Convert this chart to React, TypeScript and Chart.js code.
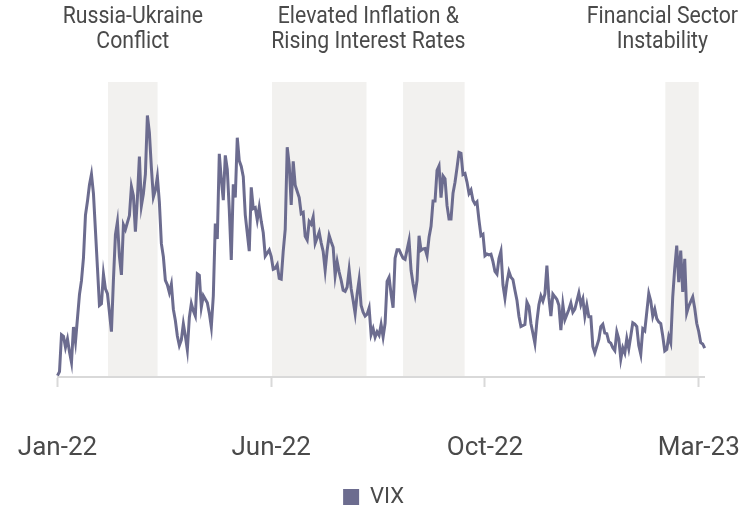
import React, { useEffect, useRef } from "react";
import { Chart, registerables } from "chart.js";

Chart.register(...registerables);

const FONT = "Roboto, 'Liberation Sans', sans-serif";
const LINE = "#6c6c8f";
const SHADE = "#f2f1ef";
const AXIS = "#d9d9d9";
const TEXT = "#4a4a4a";

// VIX daily closes, one entry per weekday (null = market holiday), one array per month
const jan22 = [16.6, 16.91, 19.73, 19.61, 18.76, 19.4, 18.41, 17.62, 20.31, 19.19, null, 22.79, 23.85, 25.59, 28.85, 29.9, 31.16, 31.96, 30.49, 27.66, 24.83];
const feb22 = [21.96, 22.09, 24.35, 23.22, 22.86, 21.44, 19.96, 23.91, 27.36, 28.33, 25.7, 24.29, 28.11, 27.75, null, 28.81, 31.02, 30.32, 27.59, 30.15];
const mar22 = [33.32, 29.57, 30.48, 31.98, 36.45, 35.13, 32.45, 30.23, 30.75, 31.77, 29.83, 26.67, 25.67, 23.87, 23.53, 22.94, 23.57, 21.67, 20.81, 19.63, 18.9, 19.33, 20.56];
const apr22 = [19.63, 18.57, 21.03, 22.1, 21.55, 21.16, 24.37, 24.26, 21.82, 22.7, null, 22.17, 21.37, 20.32, 22.68, 28.21, 27.02, 33.52, 31.6, 29.99, 33.4];
const may22 = [32.34, 29.25, 25.42, 31.2, 30.19, 34.75, 32.99, 32.56, 31.77, 28.87, 27.47, 26.1, 30.96, 29.35, 29.43, 28.48, 29.45, 28.37, 27.5, 25.72, null, 26.19];
const jun22 = [25.69, 24.72, 24.79, 25.07, 24.02, 23.96, 26.09, 27.75, 34.02, 32.69, 29.62, 32.95, 31.13, null, 30.19, 28.95, 29.05, 27.23, 26.95, 28.36, 28.16, 28.71];
const jul22 = [26.7, null, 27.54, 26.73, 26.08, 24.64, 26.17, 27.29, 26.82, 26.4, 24.23, 25.3, 24.5, 23.88, 23.11, 23.03, 23.36, 24.69, 23.24, 22.33, 21.33];
const aug22 = [22.84, 23.93, 21.95, 21.44, 21.15, 21.29, 21.77, 19.74, 20.2, 19.53, 19.95, 19.69, 20.5, 19.56, 20.6, 23.8, 24.11, 22.82, 21.78, 25.56, 26.21, 26.21, 25.87];
const sep22 = [25.56, 25.47, null, 26.91, 24.64, 23.61, 22.79, 23.87, 27.27, 26.16, 26.27, 26.3, 25.76, 27.16, 27.99, 29.92, 29.92, 32.26, 32.6, 30.18, 31.84, 31.62];
const oct22 = [29.59, 28.55, 28.55, 30.52, 31.36, 32.45, 33.63, 33.57, 31.94, 32.02, 31.37, 30.5, 30.76, 29.98, 29.69, 29.85, 28.46, 27.28, 27.39, 25.75, 25.88];
const nov22 = [25.81, 25.86, 25.3, 24.55, 24.35, 25.54, 26.09, 23.53, 22.52, 23.73, 24.54, 24.11, 23.93, 23.12, 22.36, 21.13, 20.35, null, 20.5, 22.21, 21.89, 20.58];
const dec22 = [19.84, 19.06, 20.75, 22.01, 22.68, 22.29, 22.83, 25.0, 22.55, 21.14, 22.83, 22.62, 22.42, 21.97, 20.07, 22.01, 20.87, null, 21.65, 22.14, 21.44, 21.67];
const jan23 = [null, 22.9, 22.01, 22.46, 21.13, 21.97, 21.09, 21.09, 18.83, 18.35, null, 19.36, 20.34, 20.52, 19.85, 19.81, 19.2, 19.08, 18.73, 18.51, 19.94, 19.4];
const feb23 = [17.87, 18.73, 18.33, 19.43, 18.66, 19.63, 20.63, 20.53, 20.34, 18.91, 18.23, 20.17, 20.02, null, 22.87, 22.29, 21.14, 21.67, 20.95, 20.7];
const mar23 = [20.58, 19.63, 18.49, 18.61, 19.59, 19.11, 22.61, 24.8, 26.52, 23.73, 26.14, 22.99, 25.51, 21.38, 21.9, 22.26, 22.61, 21.74, 20.6, 19.97, 19.12, 19.02, 18.7];

const monthLabels = ["Jan-22", "Feb-22", "Mar-22", "Apr-22", "May-22", "Jun-22", "Jul-22", "Aug-22", "Sep-22", "Oct-22", "Nov-22", "Dec-22", "Jan-23", "Feb-23", "Mar-23"];
const monthSeries = [jan22, feb22, mar22, apr22, may22, jun22, jul22, aug22, sep22, oct22, nov22, dec22, jan23, feb23, mar23];

const vix = monthSeries.flat();
const labels = monthSeries.flatMap((m, i) => m.map(() => monthLabels[i]));

// category indices that carry a tick label
const tickIndices = [0, 107, 214, 321];

// shaded periods (category index positions)
const shadeStart = [25.3, 107.4, 173, 304.3];
const shadeEnd = [50.1, 154.7, 203.8, 321];

// event captions
const eventLines = [
  ["Russia-Ukraine", "Conflict"],
  ["Elevated Inflation &", "Rising Interest Rates"],
  ["Financial Sector", "Instability"],
];
const eventFrom = [25.3, 107.4, 304.3];
const eventTo = [50.1, 203.8, 321];

const ANNO_SIZE = 24;
const ANNO_STRETCH = 0.885;
const LEGEND_SHIFT = -7.5;

const periodPlugin = {
  id: "periods",
  afterLayout(chart: any) {
    const lg = chart.legend;
    if (lg) {
      lg.left += LEGEND_SHIFT;
      lg.right += LEGEND_SHIFT;
    }
  },
  beforeDraw(chart: any) {
    const { ctx, chartArea, scales } = chart;
    const x = scales.x;
    ctx.save();
    ctx.fillStyle = SHADE;
    shadeStart.forEach((s, i) => {
      const x0 = x.getPixelForValue(s);
      const x1 = x.getPixelForValue(shadeEnd[i]);
      ctx.fillRect(x0, chartArea.top, x1 - x0, chartArea.bottom - chartArea.top);
    });
    ctx.restore();
  },
  afterDraw(chart: any) {
    const { ctx, scales, width } = chart;
    const x = scales.x;
    ctx.save();
    ctx.font = `${ANNO_SIZE}px ${FONT}`;
    ctx.fillStyle = TEXT;
    ctx.textAlign = "center";
    ctx.textBaseline = "middle";
    eventLines.forEach((lines, i) => {
      let cx = (x.getPixelForValue(eventFrom[i]) + x.getPixelForValue(eventTo[i])) / 2;
      const w = Math.max(...lines.map((l) => ctx.measureText(l).width)) * ANNO_STRETCH;
      cx = Math.min(cx, width - 5 - w / 2);
      lines.forEach((l, j) => {
        ctx.save();
        ctx.translate(cx, 17 + j * 25);
        ctx.scale(ANNO_STRETCH, 1);
        ctx.fillText(l, 0, 0);
        ctx.restore();
      });
    });
    ctx.restore();
  },
};

export default function App() {
  const ref = useRef<HTMLCanvasElement>(null);
  useEffect(() => {
    Chart.defaults.font.family = FONT;
    const chart = new Chart(ref.current as HTMLCanvasElement, {
      type: "line",
      data: {
        labels,
        datasets: [
          {
            label: "VIX",
            data: vix,
            borderColor: LINE,
            backgroundColor: LINE,
            borderWidth: 3,
            pointRadius: 0,
            tension: 0,
            fill: false,
            spanGaps: true,
          },
        ],
      },
      options: {
        animation: false,
        responsive: false,
        devicePixelRatio: 1,
        layout: { padding: { left: 57.5, right: 38.3, top: 82, bottom: -9 } },
        scales: {
          x: {
            type: "category",
            offset: false,
            grid: {
              display: true,
              drawOnChartArea: false,
              drawTicks: true,
              tickLength: 41,
              tickBorderDash: [9, 200],
              tickColor: AXIS,
              tickWidth: 2,
              color: AXIS,
            },
            border: { display: true, color: AXIS, width: 2 },
            ticks: {
              autoSkip: false,
              maxRotation: 0,
              minRotation: 0,
              padding: 0,
              color: TEXT,
              font: { family: FONT, size: 26, lineHeight: "60px" },
              callback: (_v: any, i: number) => (tickIndices.includes(i) ? labels[i] : null),
            },
          },
          y: { display: false, min: 16.5, max: 39 },
        },
        plugins: {
          legend: {
            position: "bottom",
            labels: {
              color: TEXT,
              font: { family: FONT, size: 22 },
              boxWidth: 16,
              boxHeight: 16,
              padding: 8,
              generateLabels: (c: any) =>
                Chart.defaults.plugins.legend.labels.generateLabels(c).map((l: any) => ({ ...l, lineWidth: 0 })),
            },
          },
          tooltip: { enabled: false },
        },
      },
      plugins: [periodPlugin],
    });
    return () => chart.destroy();
  }, []);
  return (
    <div style={{ position: "fixed", left: 0, top: 0, width: 743, height: 509, background: "#fff" }}>
      <canvas ref={ref} width={743} height={509} style={{ display: "block", width: 743, height: 509 }} />
    </div>
  );
}
